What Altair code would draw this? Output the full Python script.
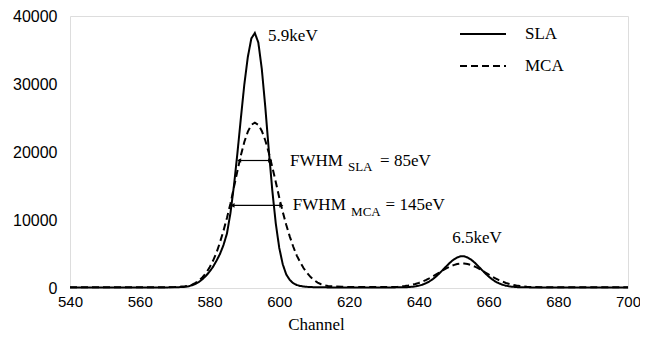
import altair as alt
import pandas as pd

channels = [540, 545, 550, 555, 560, 565, 568, 570, 571, 572,
            573, 574, 575, 576, 577, 578, 579, 580, 581, 582, 583, 584, 585, 586, 587, 588, 589, 590, 591, 592, 593,
            594, 595, 596, 597, 598, 599, 600, 601, 602, 603, 604, 605, 606, 607, 608, 609, 610, 611, 612, 613, 614, 615,
            618, 621, 624, 627, 630,
            632, 633, 634, 635, 636, 637, 638, 639, 640, 641, 642, 643, 644, 645, 646, 647, 648, 649, 650, 651, 652,
            653, 654, 655, 656, 657, 658, 659, 660, 661, 662, 663, 664, 665, 666, 667, 668, 669, 670, 671, 672, 673,
            676, 680, 685, 690, 695, 700]

sla = [80, 80, 80, 80, 80, 80, 90, 110, 120, 140,
       170, 250, 400, 600, 900, 1300, 1800, 2400, 3100, 4000, 5000, 6300, 8000, 11000, 15000, 19800, 25000, 30000, 34000, 36700, 37500,
       36100, 32200, 26600, 20300, 14400, 9500, 5900, 3500, 2000, 1200, 700, 450, 300, 220, 170, 140, 120, 110, 100, 95, 90, 90,
       85, 85, 85, 85, 85,
       85, 90, 95, 100, 110, 135, 175, 240, 335, 480, 680, 950, 1290, 1710, 2190, 2710, 3240, 3750, 4180, 4490, 4660,
       4660, 4490, 4180, 3750, 3240, 2710, 2190, 1710, 1290, 950, 680, 480, 335, 240, 175, 135, 110, 100, 95, 90, 85,
       80, 80, 80, 80, 80, 80]

mca = [100, 100, 100, 100, 100, 100, 120, 150, 180, 220,
       250, 350, 500, 750, 1100, 1600, 2200, 3000, 4000, 5200, 6700, 8400, 10300, 12400, 14800, 17200, 19500, 21500, 23000, 24000, 24300,
       24000, 23100, 21700, 19900, 17800, 15600, 13300, 11200, 9300, 7600, 6100, 4800, 3800, 2900, 2200, 1600, 1150, 800, 550, 400, 300, 250,
       180, 140, 130, 130, 135,
       140, 160, 185, 230, 285, 360, 460, 590, 745, 940, 1160, 1420, 1700, 2005, 2315, 2625, 2910, 3165, 3370, 3515, 3590,
       3590, 3515, 3370, 3165, 2910, 2625, 2315, 2005, 1700, 1420, 1160, 940, 745, 590, 460, 360, 285, 230, 185, 160, 140,
       110, 100, 100, 100, 100, 100]

series_names = ["SLA", "MCA"]
x_ticks = [540, 560, 580, 600, 620, 640, 660, 680, 700]
y_ticks = [0, 5000, 10000, 15000, 20000, 25000, 30000, 35000, 40000]

# FWHM arrows
fwhm_level = [18750, 12150]
fwhm_left = [588.5, 586.6]
fwhm_right = [597.4, 600.6]

# annotation texts (anchor channel, count)
ann_text = ["5.9keV", "FWHM", "= 85eV", "FWHM", "= 145eV", "6.5keV"]
ann_x = [596.8, 603.1, 628.9, 603.9, 630.5, 656.7]
ann_y = [37060, 18680, 18680, 12200, 12200, 7350]
ann_align = ["left", "left", "left", "left", "left", "center"]
sub_text = ["SLA", "MCA"]
sub_x = [619.7, 620.6]
sub_y = [17790, 11180]

rows = []
for c, s, m in zip(channels, sla, mca):
    rows.append({"channel": c, "counts": s, "series": "SLA"})
    rows.append({"channel": c, "counts": m, "series": "MCA"})
df = pd.DataFrame(rows)

xscale = alt.Scale(domain=[540, 700], nice=False)
yscale = alt.Scale(domain=[0, 40000], nice=False)

xaxis = alt.Axis(values=x_ticks, title="Channel", titleFont="Liberation Serif", titleFontSize=17,
                 titleFontWeight="normal", titleColor="black", titleX=246, titleY=36,
                 titleBaseline="middle", titleAlign="center",
                 labelFont="Liberation Sans", labelFontSize=15, labelColor="black",
                 domain=False, ticks=False, grid=False, labelPadding=6, labelFlush=False, format="d")
yaxis = alt.Axis(values=y_ticks, title=None, labelFont="Liberation Sans", labelFontSize=16,
                 labelColor="black", domain=False, ticks=False, grid=False, labelPadding=13, format="d")

lines = alt.Chart(df).mark_line(strokeWidth=2, color="black").encode(
    x=alt.X("channel:Q", scale=xscale, axis=xaxis),
    y=alt.Y("counts:Q", scale=yscale, axis=yaxis),
    strokeDash=alt.StrokeDash("series:N",
        scale=alt.Scale(domain=series_names, range=[[1, 0], [7, 4]]),
        legend=alt.Legend(title=None, orient="none", legendX=389, legendY=-6,
                          symbolType="stroke", symbolSize=2116, symbolStrokeWidth=2,
                          symbolStrokeColor="black", labelFont="Liberation Serif",
                          labelFontSize=17, labelColor="black", labelOffset=18,
                          rowPadding=-23)),
    order="channel:Q",
)

fw = pd.DataFrame({"level": fwhm_level, "left": fwhm_left, "right": fwhm_right})
rule = alt.Chart(fw).mark_rule(color="black", strokeWidth=1.2).encode(
    x=alt.X("left:Q", scale=xscale), x2="right:Q", y=alt.Y("level:Q", scale=yscale))
headL = alt.Chart(fw).mark_point(shape="triangle-left", filled=True, color="black", size=22, opacity=1).encode(
    x=alt.X("left:Q", scale=xscale), y=alt.Y("level:Q", scale=yscale))
headR = alt.Chart(fw).mark_point(shape="triangle-right", filled=True, color="black", size=22, opacity=1).encode(
    x=alt.X("right:Q", scale=xscale), y=alt.Y("level:Q", scale=yscale))

ann = pd.DataFrame({"t": ann_text, "x": ann_x, "y": ann_y, "a": ann_align})
txt_left = alt.Chart(ann[ann["a"] == "left"]).mark_text(
    font="Liberation Serif", fontSize=17, color="black", align="left", baseline="middle").encode(
    x=alt.X("x:Q", scale=xscale), y=alt.Y("y:Q", scale=yscale), text="t:N")
txt_center = alt.Chart(ann[ann["a"] == "center"]).mark_text(
    font="Liberation Serif", fontSize=17, color="black", align="center", baseline="middle").encode(
    x=alt.X("x:Q", scale=xscale), y=alt.Y("y:Q", scale=yscale), text="t:N")
sub = pd.DataFrame({"t": sub_text, "x": sub_x, "y": sub_y})
txt_sub = alt.Chart(sub).mark_text(
    font="Liberation Serif", fontSize=13, color="black", align="left", baseline="middle").encode(
    x=alt.X("x:Q", scale=xscale), y=alt.Y("y:Q", scale=yscale), text="t:N")

chart = alt.layer(lines, rule, headL, headR, txt_left, txt_center, txt_sub).properties(
    width=558, height=272,
    autosize=alt.AutoSizeParams(type="none"),
    padding={"left": 62, "top": 8, "right": 12, "bottom": 46},
).configure_view(stroke=None).configure(background="white")

chart.save("out.html", embed_options={"renderer": "svg", "actions": False})
